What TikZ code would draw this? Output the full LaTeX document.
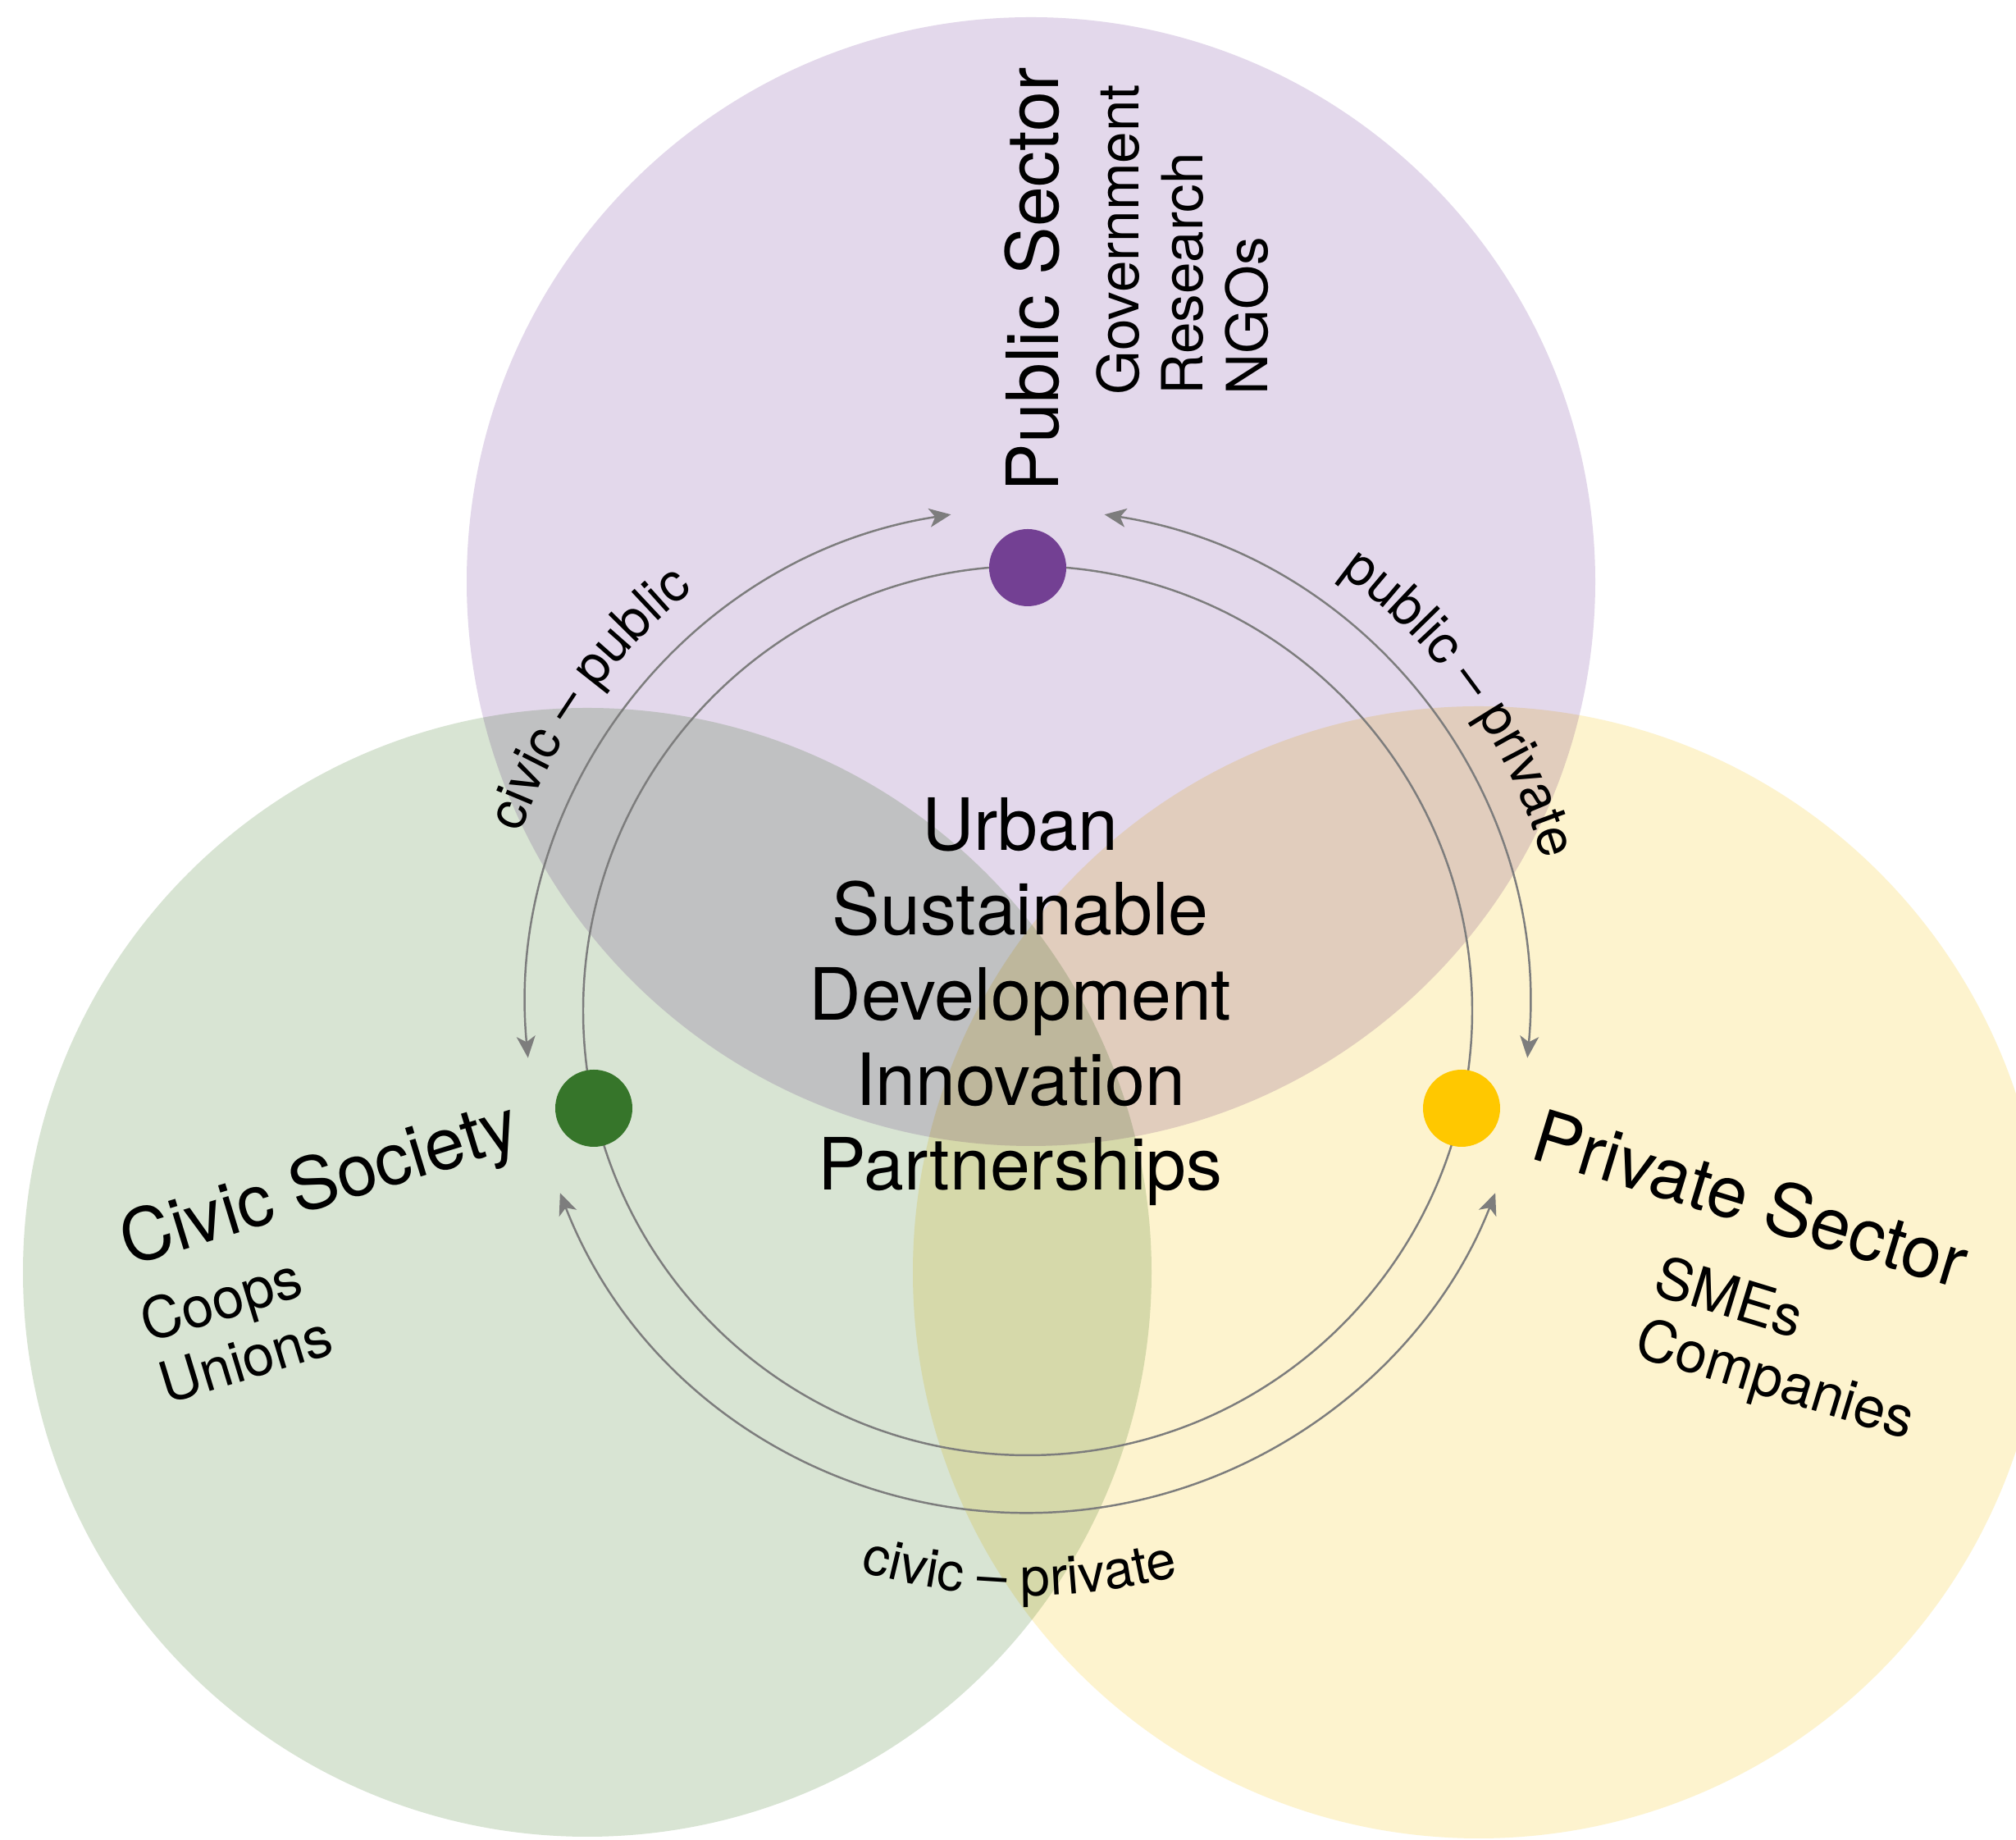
\documentclass[tikz,border=0pt]{standalone}
\usepackage{fontspec}
\setmainfont{TeX Gyre Heros}
\usetikzlibrary{arrows.meta,decorations.text,calc}
\definecolor{publiclight}{HTML}{E3D8EB}
\definecolor{civiclight}{HTML}{D8E4D3}
\definecolor{privatelight}{HTML}{FDF3CE}
\definecolor{publicdot}{HTML}{734093}
\definecolor{civicdot}{HTML}{36752A}
\definecolor{privatedot}{HTML}{FFC800}
\definecolor{linkgray}{HTML}{7D7D7D}
\newcommand{\headfont}{\fontsize{25}{29.5}\selectfont}
\newcommand{\subfont}{\fontsize{19.7}{22.3}\selectfont}
\newcommand{\linkfont}{\fontsize{18.5}{21}\selectfont}
\def\width{24.58}
\def\hauteur{22.43}

\begin{document}
\begin{tikzpicture}[x=1cm, y=1cm,
	dot/.style={circle, inner sep=0pt, minimum size=0.94cm},
	link/.style={color=linkgray, line width=0.7pt},
	twoway/.style={{Stealth[length=7.5pt,width=6.5pt,inset=2pt]}-{Stealth[length=7.5pt,width=6.5pt,inset=2pt]}},
	linklabel/.style={decorate, decoration={text along path, text align=center, text={#1}}}]
	\fill[white] (0,0) rectangle (\width,\hauteur);
	\useasboundingbox (0,0) rectangle (\width,\hauteur);
	\begin{scope}
		\clip (0,0) rectangle (\width,\hauteur);
		\begin{scope}[blend group=multiply]
			\fill[publiclight] (12.57,15.34) circle (6.88);
			\fill[civiclight] (7.16,6.92) circle (6.88);
			\fill[privatelight] (18.03,6.92) circle (6.9);
		\end{scope}
	\end{scope}
	\coordinate (hub) at (12.53,10.11);
	\draw[link] (hub) circle (5.42);
	\node[dot, fill=publicdot] (public) at (12.53,15.51) {};
	\node[dot, fill=civicdot] (civic) at (7.24,8.92) {};
	\node[dot, fill=privatedot] (private) at (17.82,8.92) {};
	\draw[link, twoway] ($(hub)+(98.8:6.12)$) arc[start angle=98.8, end angle=185.4, radius=6.12];
	\draw[link, twoway] ($(hub)+(81.2:6.12)$) arc[start angle=81.2, end angle=-5.4, radius=6.12];
	\draw[link, twoway] ($(hub)+(201.3:6.12)$) arc[start angle=201.3, end angle=338.7, radius=6.12];
	\path[linklabel={|\linkfont|civic – public}] ($(hub)+(169.6:6.55)$) arc[start angle=169.6, end angle=119.6, radius=6.55];
	\path[linklabel={|\linkfont|public – private}] ($(hub)+(60.4:6.55)$) arc[start angle=60.4, end angle=10.4, radius=6.55];
	\path[linklabel={|\linkfont|civic – private}] ($(hub)+(244.2:7.13)$) arc[start angle=244.2, end angle=294.2, radius=7.13];
	\node[rotate=90, anchor=base west, inner sep=0pt, font=\headfont] (publictitle) at (12.90,16.43) {Public Sector};
	\node[rotate=90, anchor=north west, align=left, inner sep=0pt, font=\subfont] (publicmembers) at (13.36,17.61) {Government\\Research\\NGOs};
	\node[rotate=17, anchor=base west, inner sep=0pt, font=\headfont] (civictitle) at (1.57,6.99) {Civic Society};
	\node[rotate=17, anchor=north west, align=left, inner sep=0pt, font=\subfont] (civicmembers) at (1.65,6.56) {Coops\\Unions};
	\node[rotate=-17, anchor=base west, inner sep=0pt, font=\headfont] (privatetitle) at (18.63,8.32) {Private Sector};
	\node[rotate=-17, anchor=north west, align=left, inner sep=0pt, font=\subfont] (privatemembers) at (20.28,7.16) {SMEs\\Companies};
	\node[align=center, font=\headfont] (theme) at (12.44,10.22) {Urban\\Sustainable\\Development\\Innovation\\Partnerships};
\end{tikzpicture}
\end{document}
